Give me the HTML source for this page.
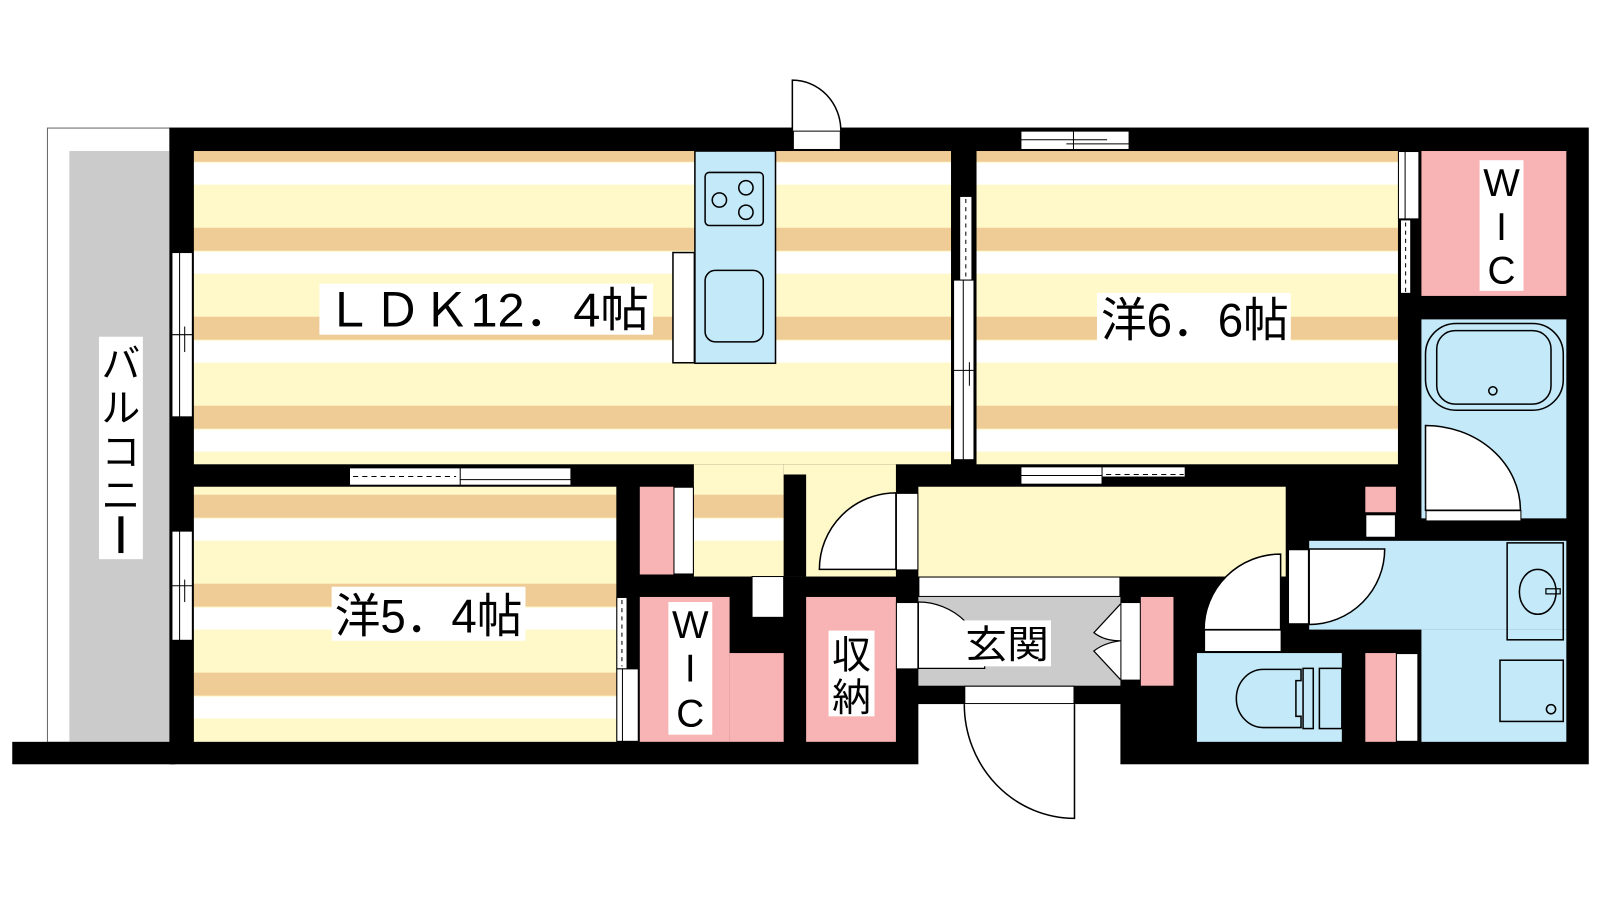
<!DOCTYPE html>
<html><head><meta charset="utf-8"><style>
html,body{margin:0;padding:0;background:#fff;width:1600px;height:900px;overflow:hidden}
svg{display:block}
text{font-family:"Liberation Sans","Noto Sans CJK JP",sans-serif;fill:#000}
</style></head><body>
<svg width="1600" height="900" viewBox="0 0 1568 882" xmlns="http://www.w3.org/2000/svg">
<defs>
<pattern id="st" patternUnits="userSpaceOnUse" x="0" y="136" width="2000" height="87.2">
<rect width="2000" height="87.2" fill="#fff8c8"/>
<rect width="2000" height="22.5" fill="#efcb96"/>
<rect y="23.5" width="2000" height="21.5" fill="#fff"/>
</pattern>
</defs>
<rect width="1568" height="882" fill="#fff"/>
<!-- balcony -->
<rect x="46.5" y="125.5" width="120" height="602" fill="#fff" stroke="#666" stroke-width="1"/>
<rect x="68" y="148" width="98" height="579" fill="#cbcbcb"/>
<rect x="97" y="330" width="43" height="218" fill="#fff"/>
<text x="118.5" y="370" font-size="38" text-anchor="middle">バ</text>
<text x="118.5" y="413" font-size="38" text-anchor="middle">ル</text>
<text x="118.5" y="456" font-size="38" text-anchor="middle">コ</text>
<text x="118.5" y="499" font-size="38" text-anchor="middle">ニ</text>
<rect x="116" y="506" width="5" height="36" fill="#000"/>
<!-- footprint black -->
<rect x="166" y="125" width="1391" height="624" fill="#000"/>
<rect x="12" y="727" width="160" height="22" fill="#000"/>
<rect x="900" y="690" width="198" height="60" fill="#fff"/>
<!-- rooms -->
<rect x="190" y="148" width="742" height="307" fill="url(#st)"/>
<rect x="957" y="148" width="413" height="307" fill="url(#st)"/>
<rect x="190" y="477" width="414" height="250" fill="url(#st)"/>
<rect x="680" y="455" width="88" height="110" fill="url(#st)"/>
<rect x="768" y="455" width="110" height="110" fill="#fff8c8"/>
<rect x="768" y="465" width="22" height="100" fill="#000"/>
<rect x="900" y="477" width="360" height="88" fill="#fff8c8"/>
<!-- passage openings -->
<rect x="737" y="565" width="31" height="40" fill="#fff" stroke="#000" stroke-width="1"/>
<!-- kitchen -->
<rect x="659.5" y="247.5" width="21" height="108" fill="#fff" stroke="#000" stroke-width="1.5"/>
<rect x="681" y="148" width="79" height="208" fill="#c4e9f8" stroke="#000" stroke-width="1.5"/>
<rect x="691" y="169" width="57" height="52" rx="4" fill="none" stroke="#000" stroke-width="1.5"/>
<g fill="none" stroke="#000" stroke-width="1.5">
<circle cx="705" cy="196" r="7"/><circle cx="731" cy="184" r="7"/><circle cx="731" cy="208" r="7"/>
</g>
<rect x="691" y="265" width="57" height="70" rx="10" fill="none" stroke="#000" stroke-width="1.5"/>
<!-- LDK label -->
<rect x="313" y="278" width="327" height="50" fill="#fff"/>
<text x="318" y="320" font-size="46" textLength="318" lengthAdjust="spacingAndGlyphs">ＬＤＫ12．4帖</text>
<!-- top door -->
<rect x="777.5" y="128.5" width="46" height="18" fill="#fff" stroke="#000" stroke-width="1"/>
<path d="M776.5 128 V78.5 A47.5 49.5 0 0 1 824 128" fill="#fff" stroke="#000" stroke-width="1.5"/>
<!-- top window -->
<rect x="1000.5" y="128.5" width="106" height="18" fill="#fff" stroke="#000" stroke-width="1"/>
<line x1="1000" y1="137" x2="1085" y2="137" stroke="#000"/><line x1="1052" y1="128" x2="1052" y2="147" stroke="#000"/>
<line x1="1045" y1="141" x2="1107" y2="141" stroke="#000"/>
<!-- left wall windows -->
<rect x="168.5" y="247.5" width="20" height="161" fill="#fff" stroke="#000" stroke-width="1"/>
<line x1="176" y1="247" x2="176" y2="409" stroke="#000"/><line x1="168" y1="328" x2="189" y2="328" stroke="#000"/><line x1="181" y1="320" x2="181" y2="345" stroke="#000"/>
<rect x="168.5" y="520.5" width="20" height="107" fill="#fff" stroke="#000" stroke-width="1"/>
<line x1="176" y1="520" x2="176" y2="628" stroke="#000"/><line x1="168" y1="574" x2="189" y2="574" stroke="#000"/><line x1="181" y1="568" x2="181" y2="590" stroke="#000"/>
<!-- LDK/5.4 window -->
<rect x="342.5" y="458.5" width="217" height="17" fill="#fff" stroke="#000" stroke-width="1"/>
<line x1="451" y1="458" x2="451" y2="476" stroke="#000"/>
<line x1="346" y1="467" x2="447" y2="467" stroke="#000" stroke-dasharray="5,4"/>
<line x1="451" y1="470" x2="560" y2="470" stroke="#000"/>
<!-- LDK/6.6 wall windows -->
<rect x="940.5" y="192.5" width="12" height="82" fill="#fff" stroke="#000" stroke-width="1"/>
<line x1="946.5" y1="195" x2="946.5" y2="272" stroke="#000" stroke-dasharray="4,4"/>
<rect x="934.5" y="274.5" width="20" height="176" fill="#fff" stroke="#000" stroke-width="1"/>
<line x1="944" y1="274" x2="944" y2="451" stroke="#000"/><line x1="934" y1="363" x2="955" y2="363" stroke="#000"/><line x1="950" y1="355" x2="950" y2="378" stroke="#000"/>
<!-- 6.6 label -->
<rect x="1075" y="287" width="190" height="50" fill="#fff"/>
<text x="1079" y="330" font-size="46" textLength="184" lengthAdjust="spacingAndGlyphs">洋6．6帖</text>
<!-- 5.4 label -->
<rect x="325" y="575" width="190" height="53" fill="#fff"/>
<text x="328" y="620" font-size="46" textLength="184" lengthAdjust="spacingAndGlyphs">洋5．4帖</text>
<!-- 6.6 bottom window -->
<rect x="1000.5" y="457.5" width="161" height="17" fill="#fff" stroke="#000" stroke-width="1"/>
<line x1="1080" y1="457" x2="1080" y2="475" stroke="#000"/>
<line x1="1000" y1="466" x2="1080" y2="466" stroke="#000"/>
<line x1="1084" y1="465" x2="1160" y2="465" stroke="#000" stroke-dasharray="5,4"/>
<rect x="1080" y="467" width="82" height="8" fill="#000"/>
<!-- WIC top right -->
<rect x="1393" y="148" width="142" height="142" fill="#f8b4b4"/>
<rect x="1370.5" y="148.5" width="20" height="66" fill="#fff" stroke="#000" stroke-width="1"/>
<line x1="1377" y1="148" x2="1377" y2="215" stroke="#000"/>
<rect x="1372.5" y="215.5" width="10" height="72" fill="#fff" stroke="#000" stroke-width="1"/>
<line x1="1377.5" y1="218" x2="1377.5" y2="286" stroke="#000" stroke-dasharray="4,4"/>
<rect x="1450" y="157" width="43" height="128" fill="#fff"/>
<text x="1471.5" y="192" font-size="38" text-anchor="middle">W</text>
<text x="1471.5" y="235" font-size="38" text-anchor="middle">I</text>
<text x="1471.5" y="278" font-size="38" text-anchor="middle">C</text>
<!-- bath -->
<rect x="1393" y="313" width="142" height="195" fill="#c4e9f8"/>
<rect x="1397" y="317" width="135" height="85" rx="30" fill="none" stroke="#000" stroke-width="1.5"/>
<rect x="1408" y="324" width="112" height="72" rx="18" fill="none" stroke="#000" stroke-width="1.5"/>
<circle cx="1463" cy="383" r="4" fill="none" stroke="#000" stroke-width="1.5"/>
<path d="M1397 500 V417 A93 83 0 0 1 1490 500 Z" fill="#fff" stroke="#000" stroke-width="1.5"/>
<rect x="1397.5" y="500.5" width="93" height="10" fill="#fff" stroke="#000" stroke-width="1"/>
<!-- small pink near wash -->
<rect x="1338" y="477" width="30" height="25" fill="#f8b4b4"/>
<rect x="1338.5" y="504.5" width="29" height="22" fill="#fff" stroke="#000" stroke-width="1"/>
<!-- washroom -->
<rect x="1283" y="530" width="252" height="87" fill="#c4e9f8"/>
<rect x="1393" y="617" width="142" height="110" fill="#c4e9f8"/>
<rect x="1477" y="532" width="55" height="95" fill="none" stroke="#000" stroke-width="1.5"/>
<ellipse cx="1507" cy="580" rx="18" ry="22" fill="none" stroke="#000" stroke-width="1.5"/>
<rect x="1515" y="577" width="14" height="5" fill="none" stroke="#000" stroke-width="1.2"/>
<rect x="1470" y="647" width="62" height="60" fill="none" stroke="#000" stroke-width="1.5"/>
<circle cx="1520" cy="695" r="4.5" fill="none" stroke="#000" stroke-width="1.5"/>
<rect x="1262.5" y="538.5" width="20" height="73" fill="#fff" stroke="#000" stroke-width="1.5"/>
<path d="M1283 538 H1357 A74 74 0 0 1 1283 612 Z" fill="#fff" stroke="#000" stroke-width="1.5"/>
<!-- toilet -->
<rect x="1173" y="640" width="142" height="87" fill="#c4e9f8"/>
<rect x="1180.5" y="617.5" width="75" height="21" fill="#fff" stroke="#000" stroke-width="1"/>
<path d="M1180 617 A75 74 0 0 1 1255 543 V617 Z" fill="#fff" stroke="#000" stroke-width="1.5"/>
<path d="M1275 656 H1238 A25 27 0 0 0 1238 713 H1275 V702 H1270 V667 H1275 Z" fill="none" stroke="#000" stroke-width="1.5"/>
<rect x="1277" y="655" width="10" height="59" fill="none" stroke="#000" stroke-width="1.5"/>
<rect x="1293" y="655" width="22" height="59" fill="none" stroke="#000" stroke-width="1.5"/>
<rect x="1338" y="640" width="30" height="87" fill="#f8b4b4"/>
<rect x="1368.5" y="640.5" width="21" height="86" fill="#fff" stroke="#000" stroke-width="1"/>
<!-- hall door -->
<rect x="878.5" y="483.5" width="21" height="75" fill="#fff" stroke="#000" stroke-width="1"/>
<path d="M878 483 A75 75 0 0 0 803 558 H878 Z" fill="#fff" stroke="#000" stroke-width="1.5"/>
<!-- upper WIC -->
<rect x="627" y="477" width="33" height="86" fill="#f8b4b4"/>
<rect x="660.5" y="477.5" width="19" height="85" fill="#fff" stroke="#000" stroke-width="1"/>
<!-- lower WIC -->
<rect x="627" y="585" width="88" height="142" fill="#f8b4b4"/>
<rect x="715" y="640" width="53" height="87" fill="#f8b4b4"/>
<rect x="604.5" y="585.5" width="10" height="70" fill="#fff" stroke="#000" stroke-width="1"/>
<line x1="609.5" y1="588" x2="609.5" y2="653" stroke="#000" stroke-dasharray="4,4"/>
<rect x="604.5" y="655.5" width="21" height="71" fill="#fff" stroke="#000" stroke-width="1"/>
<line x1="610" y1="655" x2="610" y2="727" stroke="#000"/>
<rect x="655" y="590" width="43" height="130" fill="#fff"/>
<text x="676.5" y="625" font-size="38" text-anchor="middle">W</text>
<text x="676.5" y="668" font-size="38" text-anchor="middle">I</text>
<text x="676.5" y="712" font-size="38" text-anchor="middle">C</text>
<!-- storage -->
<rect x="790" y="585" width="88" height="142" fill="#f8b4b4"/>
<rect x="812" y="618" width="45" height="84" fill="#fff"/>
<text x="834.5" y="655" font-size="38" text-anchor="middle">収</text>
<text x="834.5" y="697" font-size="38" text-anchor="middle">納</text>
<!-- genkan -->
<rect x="900.5" y="565.5" width="197" height="19" fill="#fff" stroke="#000" stroke-width="1"/>
<rect x="900" y="585" width="198" height="87" fill="#cbcbcb"/>
<rect x="878.5" y="590.5" width="21" height="65" fill="#fff" stroke="#000" stroke-width="1"/>
<path d="M900 590 A65 65 0 0 1 965 655 H900 Z" fill="#fff" stroke="#000" stroke-width="1.2"/>
<path d="M1098 592 L1072 620 Q1082 628 1098 628 Q1082 630 1072 638 L1098 666" fill="#fff" stroke="#000" stroke-width="1.2"/>
<rect x="1098.5" y="590.5" width="19" height="76" fill="#fff" stroke="#000" stroke-width="1"/>
<rect x="1118" y="585" width="32" height="87" fill="#f8b4b4"/>
<rect x="943" y="608" width="87" height="45" fill="#fff"/>
<text x="946" y="645" font-size="38" textLength="82" lengthAdjust="spacingAndGlyphs">玄関</text>
<!-- entrance door -->
<rect x="945.5" y="672.5" width="107" height="17" fill="#fff" stroke="#000" stroke-width="1"/>
<path d="M945 690 A108 112 0 0 0 1053 802 V690" fill="#fff" stroke="#000" stroke-width="1.5"/>
</svg>
</body></html>
